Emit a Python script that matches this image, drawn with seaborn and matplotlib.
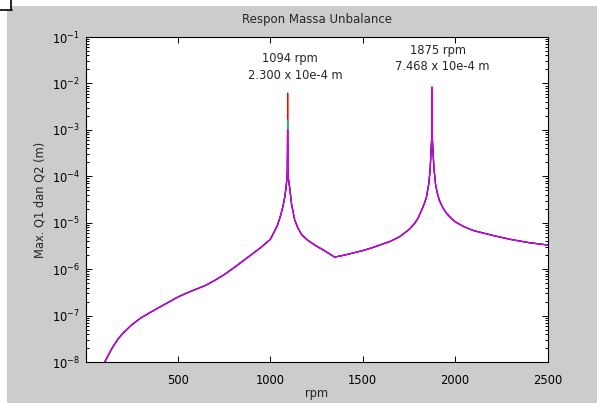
import matplotlib
matplotlib.use("Agg")
import matplotlib.pyplot as plt
import seaborn as sns
import pandas as pd
from matplotlib.patches import Rectangle
from matplotlib.lines import Line2D
from matplotlib.ticker import LogLocator, NullFormatter

# ---- data ----
rpm = [100, 116, 125, 150, 175, 200, 250, 300, 350, 400, 450, 500, 550, 600, 650,
       700, 750, 800, 850, 900, 950, 1000, 1035, 1050, 1060, 1070, 1078, 1085,
       1090, 1092, 1094, 1096, 1098, 1105, 1115, 1132, 1150, 1170, 1200, 1240,
       1300, 1348, 1400, 1450, 1500, 1550, 1600, 1650, 1700, 1750, 1780, 1800,
       1820, 1835, 1845, 1858, 1865, 1870, 1873, 1875, 1877, 1880, 1886, 1895,
       1905, 1914, 1930, 1950, 1975, 2000, 2050, 2100, 2200, 2300, 2400, 2500]
amp_base = [9.33e-9, 1.23e-8, 1.45e-8, 2.19e-8, 3.09e-8, 4.07e-8, 6.31e-8, 8.91e-8,
            1.17e-7, 1.51e-7, 1.95e-7, 2.51e-7, 3.09e-7, 3.72e-7, 4.47e-7,
            5.75e-7, 7.59e-7, 1.05e-6, 1.48e-6, 2.09e-6, 2.95e-6, 4.37e-6, 8.13e-6,
            1.20e-5, 1.66e-5, 2.40e-5, 3.55e-5, 5.62e-5,
            8.91e-5, 1.26e-4, 1.0e-3, 1.26e-4, 8.91e-5, 5.62e-5, 2.51e-5, 1.15e-5,
            7.59e-6, 5.50e-6, 4.27e-6, 3.31e-6,
            2.40e-6, 1.82e-6, 2.00e-6, 2.24e-6, 2.51e-6, 2.88e-6, 3.39e-6, 3.98e-6,
            5.01e-6, 7.08e-6, 9.55e-6, 1.26e-5,
            1.91e-5, 2.69e-5, 3.55e-5, 7.08e-5, 1.41e-4, 3.55e-4, 6.31e-4, 8.3e-3,
            6.31e-4, 3.55e-4, 1.41e-4, 6.31e-5,
            4.17e-5, 3.09e-5, 2.24e-5, 1.66e-5, 1.29e-5, 1.05e-5, 8.13e-6, 6.76e-6,
            5.37e-6, 4.37e-6, 3.72e-6, 3.31e-6]
series_names = ["Q1 a", "Q2 a", "Q1 b", "Q2 b"]
series_colors = ["#ff0000", "#00bfbf", "#0000ff", "#d400d4"]
series_widths = [0.9, 0.9, 0.8, 1.0]
peak1_values = [6.2e-3, 1.6e-3, 5.0e-4, 1.0e-3]   # value at 1094 rpm per series
peak1_rpm = 1094

annot_1 = ["1094 rpm", "2.300 x 10e-4 m"]
annot_2 = ["1875 rpm", "7.468 x 10e-4 m"]
x_ticks = [500, 1000, 1500, 2000, 2500]
y_ticks = [1e-8, 1e-7, 1e-6, 1e-5, 1e-4, 1e-3, 1e-2, 1e-1]

rows = []
for name, pk in zip(series_names, peak1_values):
    for r, a in zip(rpm, amp_base):
        rows.append({"rpm": r, "amp": pk if r == peak1_rpm else a, "series": name})
df = pd.DataFrame(rows)

sns.set_style("ticks")
plt.rcParams["font.family"] = ["DejaVu Sans"]
plt.rcParams["font.size"] = 8.3

W, H = 597, 403
fig = plt.figure(figsize=(W / 100, H / 100), dpi=100, facecolor="white")
# gray figure background
fig.patches.append(Rectangle((7 / W, 0), 1 - 7 / W, (H - 6) / H, transform=fig.transFigure,
                             facecolor="#cccccc", edgecolor="none", zorder=-10))
# small white box artifact at top-left
fig.patches.append(Rectangle((0, (H - 10) / H), 11 / W, 10 / H, transform=fig.transFigure,
                             facecolor="white", edgecolor="none", zorder=-9))
fig.lines.append(Line2D([0, 11.5 / W], [(H - 10) / H] * 2, transform=fig.transFigure,
                        color="black", lw=1.2, zorder=-8))
fig.lines.append(Line2D([11 / W] * 2, [(H - 10) / H, 1], transform=fig.transFigure,
                        color="black", lw=1.2, zorder=-8))

left, right, bottom, top = 85.5, 547.5, 362, 37
ax = fig.add_axes([left / W, (H - bottom) / H, (right - left) / W, (bottom - top) / H])
ax.set_facecolor("white")

for name, col, lw in zip(series_names, series_colors, series_widths):
    sns.lineplot(data=df[df["series"] == name], x="rpm", y="amp", color=col,
                 estimator=None, sort=False, legend=False, linewidth=lw, ax=ax)

ax.set_yscale("log")
ax.set_xlim(0, 2500)
ax.set_xticks(x_ticks)
ax.set_xticklabels([str(t) for t in x_ticks])
ax.set_yticks(y_ticks)
ax.yaxis.set_minor_locator(LogLocator(base=10, subs=range(2, 10), numticks=100))
ax.yaxis.set_minor_formatter(NullFormatter())
ax.set_ylim(1e-8, 1e-1)

for s in ax.spines.values():
    s.set_visible(True)
    s.set_color("black")
    s.set_linewidth(0.8)
ax.tick_params(which="both", direction="in", top=True, right=True, colors="black",
               labelsize=8.3, width=0.7)
ax.tick_params(which="major", length=4)
ax.tick_params(which="minor", length=2.5)
ax.tick_params(axis="x", pad=9)
ax.tick_params(axis="y", pad=4)

ax.set_title("Respon Massa Unbalance", fontsize=8.5, pad=10)
ax.set_xlabel("rpm", fontsize=8.3)
ax.set_ylabel("Max. Q1 dan Q2 (m)", fontsize=8.3)
ax.xaxis.set_label_coords(0.5, -0.077)
ax.yaxis.set_label_coords(-0.085, 0.5)

ax.text(0.443, 0.935, annot_1[0], transform=ax.transAxes, ha="center", va="center", fontsize=8.3)
ax.text(0.454, 0.882, annot_1[1], transform=ax.transAxes, ha="center", va="center", fontsize=8.3)
ax.text(0.763, 0.957, annot_2[0], transform=ax.transAxes, ha="center", va="center", fontsize=8.3)
ax.text(0.772, 0.910, annot_2[1], transform=ax.transAxes, ha="center", va="center", fontsize=8.3)

fig.savefig("out.png", dpi=100, facecolor=fig.get_facecolor())
